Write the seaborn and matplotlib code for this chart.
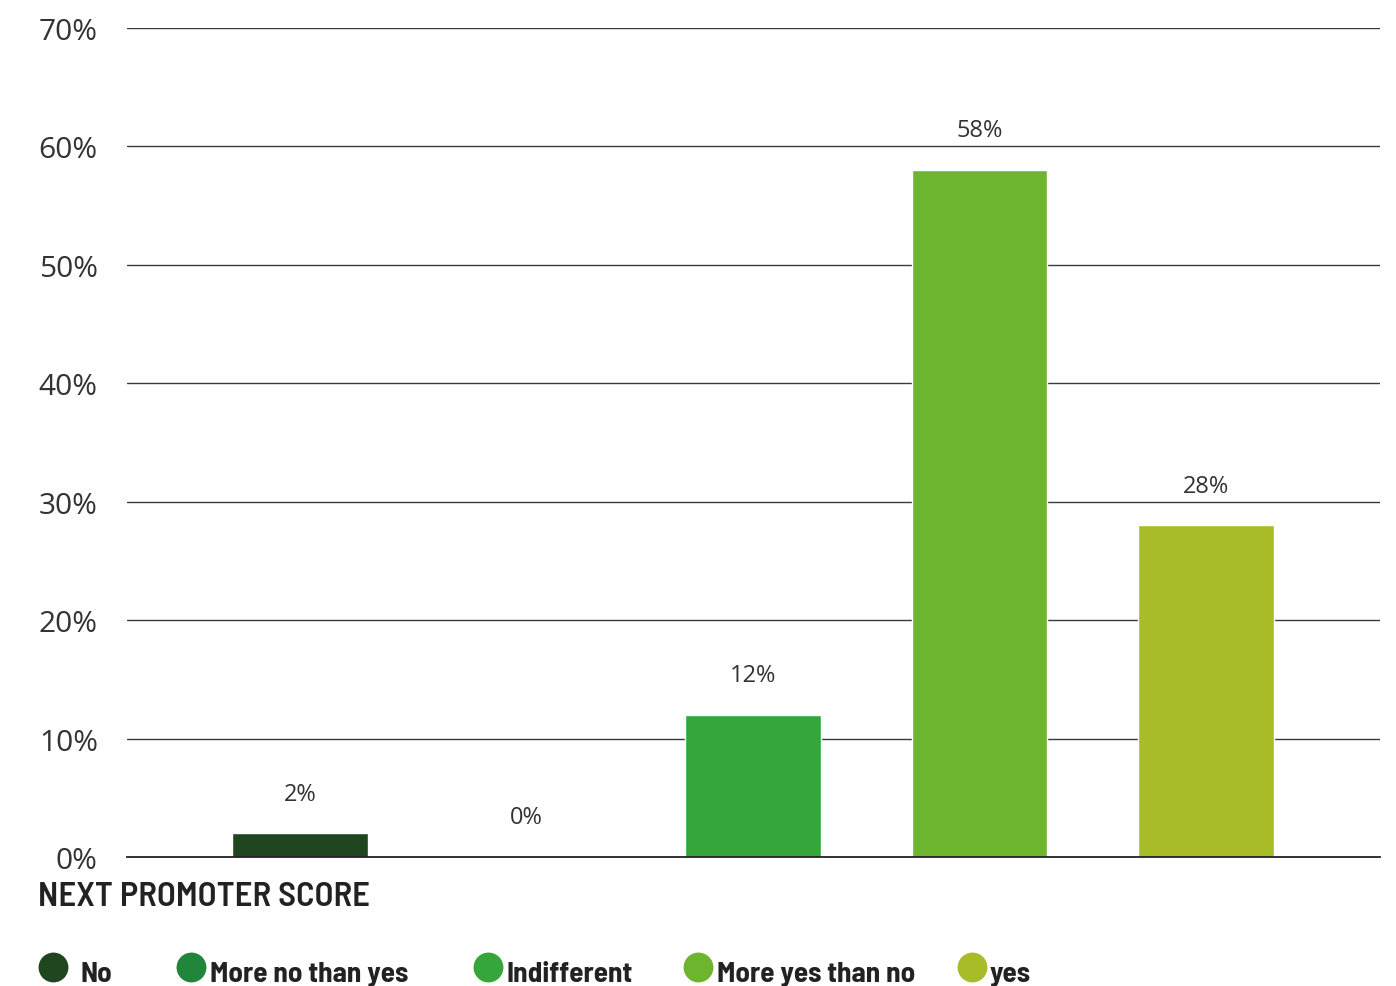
import matplotlib
matplotlib.use("Agg")
import matplotlib.pyplot as plt
from matplotlib.lines import Line2D
import seaborn as sns
import pandas as pd

# Survey answers and their shares (%)
categories = ["No", "More no than yes", "Indifferent", "More yes than no", "yes"]
values = [2, 0, 12, 58, 28]
colors = ["#20461F", "#21853A", "#34A63A", "#6EB52F", "#A8BC27"]
y_ticks = [0, 10, 20, 30, 40, 50, 60, 70]
title = "NEXT PROMOTER SCORE"

sns.set_theme(style="white")
plt.rcParams["font.family"] = ["Open Sans", "DejaVu Sans"]
COND = ["Barlow Semi Condensed", "Roboto Condensed", "DejaVu Sans"]

df = pd.DataFrame({"category": categories, "value": values})

fig = plt.figure(figsize=(13.96, 9.87), dpi=100)
ax = fig.add_axes([0.0910, 0.1307, 0.8975, 0.8399])

sns.barplot(data=df, x="category", y="value", hue="category",
            palette=colors, width=0.6, saturation=1, legend=False, ax=ax)

ax.set_ylim(0, 70)
ax.set_xlim(-0.764, 4.768)
ax.set_yticks(y_ticks)
ax.set_yticklabels([f"{t}%" for t in y_ticks], fontsize=21.5, color="#333333")
ax.tick_params(axis="y", length=0, pad=21)
ax.set_xticks([])
ax.set_xlabel("")
ax.set_ylabel("")

for t in y_ticks[1:]:
    ax.axhline(t, color="#3a3a3a", lw=1.0, zorder=0)

for s in ["left", "right", "top"]:
    ax.spines[s].set_visible(False)
ax.spines["bottom"].set_color("#222222")
ax.spines["bottom"].set_linewidth(1.3)

# value labels above the bars
for i, v in enumerate(values):
    ax.annotate(f"{v}%", xy=(i, v), xytext=(0, 20), textcoords="offset points",
                ha="center", va="bottom", fontsize=17, color="#333333")

# section title
fig.text(0.0272, 0.0905, title, fontsize=25, fontweight="semibold",
         family=COND, color="#222222", ha="left", va="center")

# legend row
marker_x = [53, 191, 488, 698, 972]
text_x = [80, 210, 507, 717, 990]
W, H = 1396, 987
for cat, col, mx, tx in zip(categories, colors, marker_x, text_x):
    fig.add_artist(Line2D([mx / W], [1 - 968 / H], marker="o", markersize=21.5,
                          color=col, markeredgewidth=0, linestyle="none",
                          transform=fig.transFigure))
    fig.text(tx / W, 1 - 982 / H, cat, fontsize=21, fontweight="bold",
             family=COND, color="#222222", ha="left", va="baseline")

fig.savefig("out.png", dpi=100)
